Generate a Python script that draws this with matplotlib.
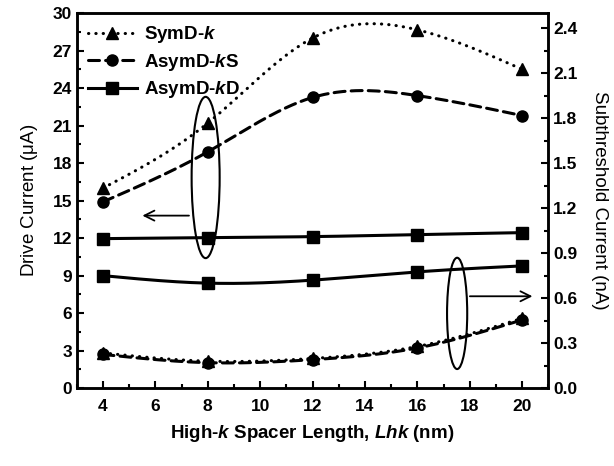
import numpy as np
import matplotlib
matplotlib.use('Agg')
import matplotlib.pyplot as plt
from matplotlib.patches import Ellipse
from matplotlib.ticker import MultipleLocator

plt.rcParams['font.family'] = ['Liberation Sans', 'DejaVu Sans']
plt.rcParams['mathtext.fontset'] = 'custom'
plt.rcParams['mathtext.rm'] = 'Liberation Sans:bold'
plt.rcParams['mathtext.it'] = 'Liberation Sans:italic:bold'
plt.rcParams['mathtext.bf'] = 'Liberation Sans:bold'

# spacer length (nm)
lhk = [4, 8, 12, 16, 20]

# drive current (uA)
ion_sym = [16.0, 21.2, 28.0, 28.66, 25.5]
ion_asym_s = [14.9, 18.9, 23.25, 23.4, 21.8]
ion_asym_d = [11.96, 12.04, 12.12, 12.28, 12.44]

# subthreshold current (nA)
ioff_sym = [0.235, 0.18, 0.198, 0.278, 0.465]
ioff_asym_s = [0.225, 0.17, 0.19, 0.268, 0.455]
ioff_asym_d = [0.75, 0.70, 0.72, 0.775, 0.815]


def spline(x, y, n=200):
    # natural cubic spline for the connecting curve
    x = np.asarray(x, float)
    y = np.asarray(y, float)
    m = len(x)
    h = np.diff(x)
    A = np.zeros((m, m))
    b = np.zeros(m)
    A[0, 0] = A[-1, -1] = 1
    for i in range(1, m - 1):
        A[i, i - 1] = h[i - 1]
        A[i, i] = 2 * (h[i - 1] + h[i])
        A[i, i + 1] = h[i]
        b[i] = 6 * ((y[i + 1] - y[i]) / h[i] - (y[i] - y[i - 1]) / h[i - 1])
    M = np.linalg.solve(A, b)
    xs = np.linspace(x[0], x[-1], n)
    idx = np.clip(np.searchsorted(x, xs) - 1, 0, m - 2)
    x0, x1 = x[idx], x[idx + 1]
    hh = x1 - x0
    t0 = x1 - xs
    t1 = xs - x0
    ys = (M[idx] * t0 ** 3 + M[idx + 1] * t1 ** 3) / (6 * hh) \
        + (y[idx] / hh - M[idx] * hh / 6) * t0 \
        + (y[idx + 1] / hh - M[idx + 1] * hh / 6) * t1
    return xs, ys


dotted = (0, (0.1, 2.3))
dashed = (0, (3.6, 2.0))

fig = plt.figure(figsize=(6.14, 4.66), dpi=100)
ax = fig.add_axes([0.125, 0.167, 0.768, 0.805])
ax2 = ax.twinx()

def draw(a, y, ls, mk, label=None):
    xs, ys = spline(lhk, y)
    a.plot(xs, ys, color='black', lw=2.2, linestyle=ls, dash_capstyle='round')
    a.plot(lhk, y, linestyle='none', marker=mk, color='black', ms=8)
    # legend proxy
    return a.plot([], [], color='black', lw=2.2, linestyle=ls, marker=mk,
                  ms=8, dash_capstyle='round', label=label)[0]

h1 = draw(ax, ion_sym, dotted, '^', 'SymD-$\\mathit{k}$')
h2 = draw(ax, ion_asym_s, dashed, 'o', 'AsymD-$\\mathit{k}$S')
h3 = draw(ax, ion_asym_d, '-', 's', 'AsymD-$\\mathit{k}$D')
draw(ax2, ioff_sym, dotted, '^')
draw(ax2, ioff_asym_s, dashed, 'o')
draw(ax2, ioff_asym_d, '-', 's')

ax.set_xlim(3, 21)
ax.set_ylim(0, 30)
ax2.set_ylim(0, 2.5)
ax.xaxis.set_major_locator(MultipleLocator(2))
ax.xaxis.set_minor_locator(MultipleLocator(1))
ax.yaxis.set_major_locator(MultipleLocator(3))
ax.yaxis.set_minor_locator(MultipleLocator(1.5))
ax2.set_yticks(np.arange(0, 2.41, 0.3))
ax2.yaxis.set_minor_locator(MultipleLocator(0.15))
ax2.set_yticklabels(['%.1f' % v for v in np.arange(0, 2.41, 0.3)])

for a in (ax, ax2):
    for s in a.spines.values():
        s.set_linewidth(1.8)
    a.tick_params(which='both', direction='in', width=1.5, labelsize=12.5)
    a.tick_params(which='major', length=5)
    a.tick_params(which='minor', length=3)
    for lab in a.get_xticklabels() + a.get_yticklabels():
        lab.set_fontweight('bold')
ax.tick_params(axis='x', pad=8)
ax.tick_params(axis='x', which='both', top=False)

ax.set_xlabel('High-$\\mathit{k}$ Spacer Length, $\\mathit{Lhk}$ (nm)',
              fontsize=13.5, fontweight='bold', labelpad=6)
ax.set_ylabel('Drive Current ($\\mathregular{\\mu}$A)', fontsize=13.5,
              fontweight='medium', labelpad=9)
ax2.set_ylabel('Subthreshold Current (nA)', fontsize=13.5, rotation=270,
               fontweight='medium', labelpad=22)

ax.legend(handles=[h1, h2, h3], loc='upper left', frameon=False,
          handlelength=2.6, handletextpad=0.4,
          labelspacing=0.35, borderaxespad=0.2,
          prop={'weight': 'bold', 'size': 13.5})

# ellipses marking which axis each group belongs to
ax.add_patch(Ellipse((7.92, 16.85), 1.07, 12.9, fill=False, lw=1.5, color='black'))
ax.add_patch(Ellipse((17.52, 5.98), 0.77, 8.9, fill=False, lw=1.5, color='black'))
ax.annotate('', xy=(5.4, 13.8), xytext=(7.39, 13.8),
            arrowprops=dict(arrowstyle='->', lw=1.3, color='black',
                            mutation_scale=18))
ax.annotate('', xy=(20.5, 7.35), xytext=(17.9, 7.35),
            arrowprops=dict(arrowstyle='->', lw=1.3, color='black',
                            mutation_scale=18))

fig.savefig('out.png', dpi=100)
